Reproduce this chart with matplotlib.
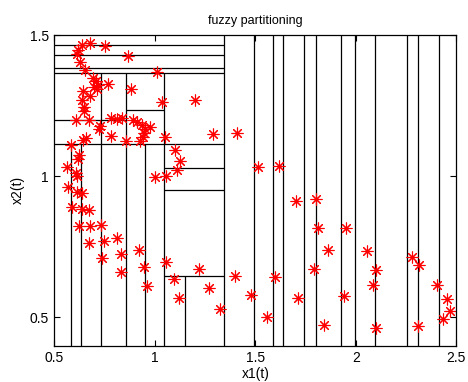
import matplotlib
matplotlib.use("Agg")
import matplotlib.pyplot as plt

# sample points (x1(t), x2(t))
x1 = [0.636, 0.680, 0.752, 0.619, 0.611, 0.867, 0.628, 0.653, 1.013, 0.693,
      0.707, 0.717, 0.698, 0.712, 0.769, 0.644, 0.882, 0.678, 0.636, 1.038,
      1.202, 0.649, 0.649, 0.608, 0.674, 0.781, 0.814, 0.837, 0.892, 0.910,
      0.935, 0.951, 0.976, 0.727, 0.724, 0.782, 0.946, 0.941, 0.924, 0.859,
      1.053, 1.291, 1.411, 0.582, 0.644, 0.659, 0.624, 0.619, 1.100, 1.125,
      1.109, 0.563, 0.608, 0.615, 1.001, 1.057, 0.570, 0.611, 0.636, 0.587,
      0.638, 0.674, 0.623, 0.678, 0.732, 0.674, 0.748, 0.814, 0.832, 0.739,
      0.921, 0.832, 0.948, 0.960, 1.057, 1.094, 1.120, 1.220, 1.271, 1.322,
      1.401, 1.477, 1.515, 1.618, 1.558, 1.598, 1.702, 1.711, 1.802, 1.792,
      1.813, 1.843, 1.860, 1.950, 1.941, 2.054, 2.100, 2.084, 2.100, 2.281,
      2.314, 2.308, 2.402, 2.452, 2.469, 2.435]
x2 = [1.464, 1.471, 1.460, 1.446, 1.434, 1.427, 1.404, 1.378, 1.368, 1.347,
      1.336, 1.324, 1.315, 1.308, 1.326, 1.301, 1.308, 1.283, 1.269, 1.262,
      1.269, 1.246, 1.232, 1.201, 1.201, 1.206, 1.202, 1.208, 1.201, 1.193,
      1.181, 1.169, 1.173, 1.177, 1.169, 1.142, 1.154, 1.140, 1.125, 1.124,
      1.140, 1.150, 1.153, 1.112, 1.130, 1.137, 1.075, 1.063, 1.094, 1.055,
      1.024, 1.033, 1.011, 1.001, 0.998, 1.002, 0.963, 0.945, 0.940, 0.890,
      0.883, 0.881, 0.824, 0.824, 0.829, 0.763, 0.771, 0.783, 0.724, 0.711,
      0.739, 0.660, 0.678, 0.613, 0.698, 0.637, 0.570, 0.670, 0.605, 0.530,
      0.647, 0.580, 1.033, 1.036, 0.501, 0.645, 0.912, 0.568, 0.918, 0.671,
      0.816, 0.475, 0.739, 0.816, 0.577, 0.736, 0.669, 0.616, 0.463, 0.713,
      0.686, 0.471, 0.616, 0.564, 0.524, 0.493]

# partition boundaries: horizontal cuts (y, x_from, x_to)
h_y = [1.464, 1.428, 1.385, 1.366, 1.201, 1.236, 1.113, 1.031, 0.950, 0.647]
h_x0 = [0.5, 0.5, 0.5, 0.5, 0.5, 0.858, 0.5, 1.047, 1.047, 1.047]
h_x1 = [1.343, 1.343, 1.343, 1.343, 0.858, 1.047, 1.343, 1.343, 1.343, 1.343]

# vertical cuts (x, y_from, y_to)
v_x = [0.732, 0.858, 1.047, 1.343, 0.582, 0.634, 0.950, 1.152,
       1.495, 1.588, 1.639, 1.744, 1.802, 1.925, 1.995, 2.096, 2.256, 2.310, 2.412]
v_y0 = [0.4] * len(v_x)
v_y1 = [1.366, 1.366, 1.366, 1.5, 1.113, 1.113, 1.113, 0.647,
        1.5, 1.5, 1.5, 1.5, 1.5, 1.5, 1.5, 1.5, 1.5, 1.5, 1.5]

plt.rcParams['font.family'] = ['Liberation Sans', 'DejaVu Sans']
plt.rcParams['font.size'] = 10

fig = plt.figure(figsize=(4.68, 3.82), dpi=100)
ax = fig.add_axes([0.116, 0.095, 0.859, 0.813])

ax.hlines(h_y, h_x0, h_x1, colors='black', linewidth=0.9)
ax.vlines(v_x, v_y0, v_y1, colors='black', linewidth=0.9)
ax.plot(x1, x2, linestyle='none', marker=(8, 2, 0), markersize=8.5,
        markeredgewidth=0.8, color='red')

ax.set_xlim(0.5, 2.5)
ax.set_ylim(0.4, 1.5)
ax.set_xticks([0.5, 1, 1.5, 2, 2.5])
ax.set_xticklabels(['0.5', '1', '1.5', '2', '2.5'])
ax.set_yticks([0.5, 1, 1.5])
ax.set_yticklabels(['0.5', '1', '1.5'])
ax.tick_params(direction='in', length=4, top=True, right=True, width=0.8, pad=4)
for s in ax.spines.values():
    s.set_linewidth(0.9)

ax.set_title('fuzzy partitioning', fontsize=9, pad=8)
ax.set_xlabel('x1(t)', labelpad=1)
ax.set_ylabel('x2(t)', labelpad=3)

fig.savefig('out.png', dpi=100)
